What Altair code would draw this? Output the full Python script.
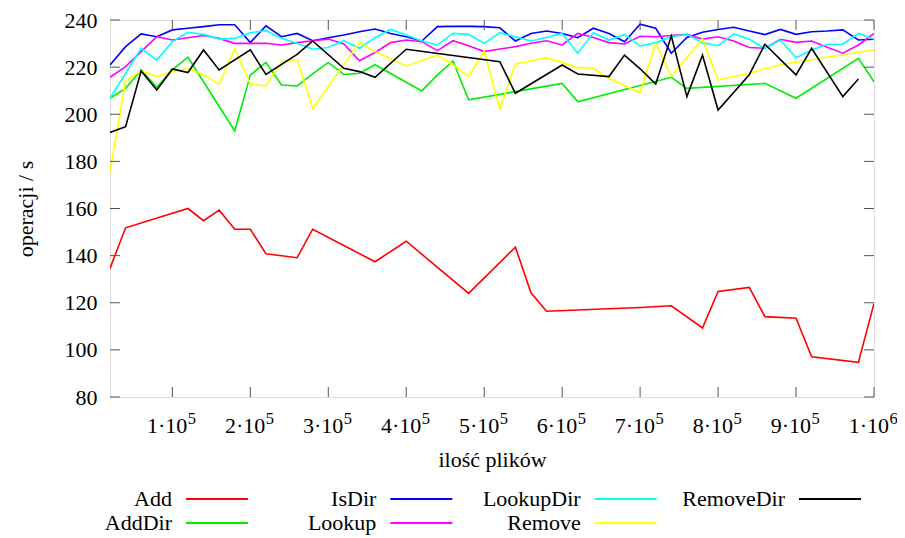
import altair as alt
import pandas as pd

# ---------------- data ----------------
series_names = ["Add", "AddDir", "IsDir", "Lookup", "LookupDir", "Remove", "RemoveDir"]
series_colors = ["#ff0000", "#00ee00", "#0000ff", "#ff00ff", "#00ffff", "#ffff00", "#000000"]

full_x = [20000 * (i + 1) for i in range(50)]

add_x = [20000, 40000, 120000, 140000, 160000, 180000, 200000, 220000, 260000, 280000,
         360000, 400000, 480000, 540000, 560000, 580000, 700000, 740000, 780000, 800000,
         840000, 860000, 900000, 920000, 980000, 1000000]
add_y = [134.6, 151.8, 160.0, 154.8, 159.3, 151.2, 151.2, 140.8, 139.1, 151.2,
         137.4, 146.1, 124.0, 143.6, 124.2, 116.4, 118.0, 118.7, 109.3, 124.8,
         126.5, 114.1, 113.4, 97.1, 94.7, 119.7]

adddir_k = [0, 1, 2, 3, 4, 5, 8, 9, 10, 11, 12, 13, 14, 15, 16, 17, 20, 21, 22, 23,
            29, 30, 36, 37, 42, 44, 48, 49]
adddir_y = [206.8, 211.0, 218.8, 211.4, 218.8, 224.2, 192.9, 216.7, 222.0, 212.4,
            212.0, 217.1, 222.0, 216.9, 217.4, 221.0, 209.9, 216.7, 222.6, 206.1,
            213.1, 205.3, 215.7, 211.0, 213.1, 206.8, 223.7, 213.8]

isdir_y = [220.9, 228.7, 234.1, 232.9, 235.8, 236.5, 237.2, 238.0, 238.0, 230.4,
           237.5, 232.9, 234.3, 231.2, 232.5, 233.6, 235.0, 236.2, 234.3, 232.9,
           231.1, 237.2, 237.3, 237.3, 237.2, 236.7, 231.1, 234.3, 235.3, 234.3,
           232.5, 236.5, 234.3, 230.8, 238.2, 236.5, 225.9, 232.6, 234.8, 236.0,
           236.9, 235.3, 233.8, 236.0, 233.9, 235.0, 235.3, 235.8, 231.5, 231.8]

lookup_y = [215.7, 220.2, 226.6, 232.9, 231.5, 232.5, 233.4, 232.2, 230.1, 230.1,
            230.1, 229.4, 230.4, 231.2, 231.9, 229.8, 222.7, 226.2, 230.4, 231.5,
            230.8, 227.0, 231.2, 229.1, 226.6, 227.7, 228.7, 230.1, 231.2, 229.4,
            234.3, 232.6, 230.4, 229.8, 233.1, 232.9, 233.4, 233.9, 231.9, 232.9,
            231.1, 228.3, 228.0, 231.8, 230.5, 231.1, 228.4, 225.9, 229.4, 234.3]

lookupdir_y = [206.8, 217.4, 228.0, 223.0, 230.8, 234.8, 233.9, 231.9, 232.2, 234.6,
               235.5, 232.2, 230.1, 227.6, 228.3, 231.2, 228.0, 232.6, 236.0, 233.6,
               231.1, 229.4, 234.3, 233.9, 230.1, 234.6, 232.9, 231.1, 232.6, 234.3,
               225.9, 234.6, 231.5, 233.9, 229.0, 230.4, 232.9, 233.9, 230.4, 229.1,
               234.1, 231.8, 228.0, 231.5, 224.0, 227.3, 229.7, 229.7, 234.3, 231.9]

remove_k = [0, 1, 2, 3, 4, 5, 6, 7, 8, 9, 10, 11, 12, 13, 16, 17, 19, 21, 22, 23,
            24, 25, 26, 28, 30, 31, 32, 34, 35, 36, 38, 39, 41, 43, 49]
remove_y = [175.6, 214.1, 218.4, 216.0, 218.1, 219.5, 216.7, 212.8, 227.7, 212.8,
            212.0, 222.3, 223.3, 202.5, 230.4, 226.6, 220.5, 225.1, 220.9, 216.0,
            226.8, 202.2, 221.3, 224.0, 219.8, 219.5, 215.2, 209.2, 230.1, 216.2,
            232.0, 214.5, 217.4, 221.0, 227.4]

removedir_k = [0, 1, 2, 3, 4, 5, 6, 7, 9, 10, 12, 13, 15, 16, 17, 19, 25, 26, 29, 30,
               32, 33, 34, 35, 36, 37, 38, 39, 41, 42, 44, 45, 47, 48]
removedir_y = [192.3, 194.7, 218.4, 210.3, 219.2, 217.7, 227.3, 218.8, 227.3, 216.9,
               225.4, 231.1, 219.5, 218.1, 215.7, 227.6, 222.3, 208.9, 220.9, 217.1,
               216.0, 225.1, 219.3, 212.8, 233.2, 207.5, 225.1, 201.8, 216.7, 229.7,
               216.7, 228.0, 207.5, 215.0]

y_ticks = [80, 100, 120, 140, 160, 180, 200, 220, 240]
x_ticks = [100000, 200000, 300000, 400000, 500000, 600000, 700000, 800000, 900000, 1000000]
x_tick_base = ["1·10", "2·10", "3·10", "4·10", "5·10", "6·10", "7·10", "8·10", "9·10", "1·10"]
x_tick_exp = ["5", "5", "5", "5", "5", "5", "5", "5", "5", "6"]

# ---------------- tables ----------------
def k2x(ks):
    return [full_x[k] for k in ks]

series_xy = {
    "Add": (add_x, add_y),
    "AddDir": (k2x(adddir_k), adddir_y),
    "IsDir": (full_x, isdir_y),
    "Lookup": (full_x, lookup_y),
    "LookupDir": (full_x, lookupdir_y),
    "Remove": (k2x(remove_k), remove_y),
    "RemoveDir": (k2x(removedir_k), removedir_y),
}
rows = []
for name in series_names:
    xs_, ys_ = series_xy[name]
    for a, b in zip(xs_, ys_):
        rows.append({"series": name, "x": a, "value": b})
df = pd.DataFrame(rows)

ytdf = pd.DataFrame({"t": y_ticks})
xtdf = pd.DataFrame({"t": x_ticks, "base": x_tick_base, "exp": x_tick_exp})
legdf = pd.DataFrame({"series": series_names,
                      "col": [i // 2 for i in range(len(series_names))],
                      "row": [i % 2 for i in range(len(series_names))]})

# ---------------- chart ----------------
W, H = 764, 377
FONT = "Liberation Serif"

xs = alt.Scale(domain=[20000, 1000000], nice=False, zero=False)
ys = alt.Scale(domain=[80, 240], nice=False, zero=False)
cs = alt.Scale(domain=series_names, range=series_colors)

x_axis = alt.Axis(title="ilość plików", labels=False, ticks=False, domain=False, grid=False,
                  titleFontSize=22, titleFont=FONT, titleFontWeight="normal",
                  titleBaseline="alphabetic", titleY=69, titleColor="black")
y_axis = alt.Axis(title="operacji / s", values=y_ticks, ticks=False, domain=False, grid=False,
                  labelFontSize=22, labelFont=FONT, labelPadding=13, labelColor="black",
                  titleFontSize=22, titleFont=FONT, titleFontWeight="normal",
                  titleBaseline="alphabetic", titleX=-78, titleColor="black")

X = lambda f: alt.X(f, scale=xs, axis=x_axis)
Y = lambda f: alt.Y(f, scale=ys, axis=y_axis)

lines = alt.Chart(df).mark_line(strokeWidth=1.6, clip=True).encode(
    x=X("x:Q"), y=Y("value:Q"),
    color=alt.Color("series:N", scale=cs, legend=None),
)

tick_style = dict(color="#555555", strokeWidth=1)
left_ticks = alt.Chart(ytdf).mark_rule(**tick_style).encode(
    y=Y("t:Q"), x=alt.value(0), x2=alt.value(10))
right_ticks = alt.Chart(ytdf).mark_rule(**tick_style).encode(
    y=Y("t:Q"), x=alt.value(W - 10), x2=alt.value(W))
bottom_ticks = alt.Chart(xtdf).mark_rule(**tick_style).encode(
    x=X("t:Q"), y=alt.value(H), y2=alt.value(H - 10))
top_ticks = alt.Chart(xtdf).mark_rule(**tick_style).encode(
    x=X("t:Q"), y=alt.value(0), y2=alt.value(10))

xlab_base = alt.Chart(xtdf).mark_text(align="right", baseline="alphabetic", dx=15,
                                      font=FONT, fontSize=22, color="black").encode(
    x=X("t:Q"), y=alt.value(H + 36), text="base:N")
xlab_exp = alt.Chart(xtdf).mark_text(align="left", baseline="alphabetic", dx=15.5,
                                     font=FONT, fontSize=16.5, color="black").encode(
    x=X("t:Q"), y=alt.value(H + 27), text="exp:N")

main = alt.layer(lines, left_ticks, right_ticks, bottom_ticks, top_ticks, xlab_base, xlab_exp)

lx = alt.Scale(domain=[0, 3], range=[62, 675])
ly = alt.Scale(domain=[0, 1], range=[479, 503])
leg_text = alt.Chart(legdf).mark_text(align="right", baseline="alphabetic", dy=7,
                                      font=FONT, fontSize=22, color="black").encode(
    x=alt.X("col:Q", scale=lx, axis=None),
    y=alt.Y("row:Q", scale=ly, axis=None),
    text="series:N")
leg_line = alt.Chart(legdf).mark_rule(strokeWidth=2, xOffset=14, x2Offset=76).encode(
    x=alt.X("col:Q", scale=lx, axis=None),
    x2="col:Q",
    y=alt.Y("row:Q", scale=ly, axis=None),
    color=alt.Color("series:N", scale=cs, legend=None))
legend = alt.layer(leg_text, leg_line)

chart = alt.layer(main, legend).resolve_scale(x="independent", y="independent").properties(
    width=W, height=H,
    autosize=alt.AutoSizeParams(type="none"),
    padding={"left": 102, "top": 12, "right": 23, "bottom": 140},
).configure_view(stroke="black", strokeWidth=1).configure(background="white")

chart.save("out.html", embed_options={"renderer": "svg", "actions": False})
